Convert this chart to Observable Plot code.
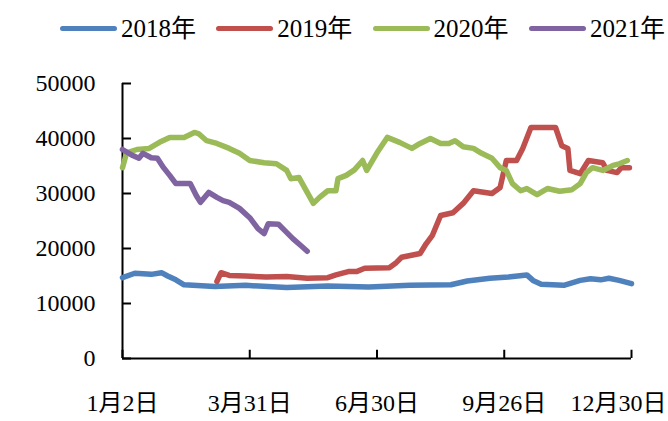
<!DOCTYPE html>
<html><head><meta charset="utf-8">
<script src="https://cdn.jsdelivr.net/npm/d3@7"></script>
<script src="https://cdn.jsdelivr.net/npm/@observablehq/plot@0.6"></script>
<style>
body{margin:0;background:#fff;width:668px;height:421px;overflow:hidden;font-family:"Liberation Serif","Noto Sans CJK SC",serif;}
#legend{height:50px;box-sizing:border-box;padding-top:6px;padding-left:60px;display:flex;align-items:center;width:668px;overflow:visible;}
.item{width:156.3px;display:flex;align-items:center;flex:none}
.sw{width:57px;height:5px;border-radius:3px;margin-right:4px;flex:none}
.lt{font-size:25px;color:#000;white-space:nowrap;line-height:1}
</style></head><body>
<div id="legend"></div><div id="chart"></div>
<script>
const years = ["2018年", "2019年", "2020年", "2021年"];
const colors = ["#4F81BD", "#C0504D", "#9BBB59", "#8064A2"];

const xTickIdx = [0, 62, 124, 186, 248];
const xTickLabels = ["1月2日", "3月31日", "6月30日", "9月26日", "12月30日"];
const yTicks = [0, 10000, 20000, 30000, 40000, 50000];

const idx2018 = [0,6,14,19,22,26,30,45,60,80,100,120,140,160,168,179,188,197,200,204,215,223,228,233,237,242,248];
const val2018 = [14700,15500,15300,15600,15000,14300,13400,13100,13300,12900,13200,13000,13300,13400,14100,14600,14800,15200,14200,13500,13300,14200,14500,14300,14600,14200,13600];

const idx2019 = [46,48,52,60,70,80,90,100,104,110,114,118,130,133,136,145,148,151,155,161,166,171,180,184,187,192,195,199,211,214,217,218,223,227,234,236,241,243,247];
const val2019 = [14000,15600,15100,15000,14800,14900,14600,14700,15200,15800,15800,16400,16500,17300,18400,19100,20900,22400,26000,26500,28200,30500,30000,31100,36000,36000,38200,42000,42000,38700,38200,34200,33600,36000,35600,34200,33800,34700,34700];

const idx2020 = [0,2,7,13,18,23,30,35,37,41,46,52,57,62,69,75,80,82,86,90,93,96,100,104,105,109,113,117,119,124,129,135,141,145,150,155,159,162,166,171,175,180,184,187,190,194,197,202,207,213,219,223,226,229,234,239,242,246];
const val2020 = [34700,37400,38000,38200,39300,40200,40200,41100,40900,39600,39100,38200,37300,36000,35600,35400,34200,32700,32900,30200,28200,29300,30500,30500,32700,33300,34300,36000,34200,37400,40200,39300,38200,39100,40000,39100,39100,39600,38500,38200,37300,36400,34700,34200,31800,30500,30900,29800,30900,30400,30700,31800,33800,34700,34200,35100,35400,36000];

const idx2021 = [0,5,8,10,14,17,20,23,26,33,36,38,42,46,49,52,57,62,66,69,71,76,79,83,87,90];
const val2021 = [38000,36900,36400,37300,36500,36400,34700,33300,31800,31800,29600,28400,30200,29300,28700,28400,27300,25600,23600,22700,24500,24400,23300,21800,20500,19500];

const seriesIdx = [idx2018, idx2019, idx2020, idx2021];
const seriesVal = [val2018, val2019, val2020, val2021];
const rows = [];
years.forEach((y, s) => seriesIdx[s].forEach((i, k) => rows.push({year: y, i, v: seriesVal[s][k]})));

// legend
const lg = document.getElementById("legend");
years.forEach((y, s) => {
  const it = document.createElement("div"); it.className = "item";
  const sw = document.createElement("span"); sw.className = "sw"; sw.style.background = colors[s];
  const t = document.createElement("span"); t.className = "lt"; t.textContent = y;
  it.append(sw, t); lg.append(it);
});

const tickLenY = 1500;   // inward tick length on x axis (≈8px)
const tickLenX = 4.4;    // inward tick length on y axis (≈9px)
const lastLabel = xTickIdx.length - 1;
const font = '"Liberation Serif","Noto Sans CJK SC",serif';

const chart = Plot.plot({
  width: 668, height: 371,
  marginLeft: 122, marginRight: 37, marginTop: 33, marginBottom: 63,
  x: {domain: [0, 248], label: null, axis: null},
  y: {domain: [0, 50000], label: null},
  color: {domain: years, range: colors},
  style: {fontFamily: font, fontSize: "24px", color: "#000", background: "#fff", overflow: "visible"},
  marks: [
    Plot.axisY({ticks: yTicks, tickSize: 0, tickPadding: 27, tickFormat: d => String(d), fontSize: 24, label: null}),
    Plot.text(xTickIdx.slice(0, lastLabel), {x: d => d, y: 0, text: d => xTickLabels[xTickIdx.indexOf(d)], fontSize: 24, lineAnchor: "top", dy: 35, fill: "#000"}),
    Plot.text([xTickIdx[lastLabel]], {x: d => d, y: 0, text: () => xTickLabels[lastLabel], fontSize: 24, lineAnchor: "top", dy: 35, dx: -13, fill: "#000"}),
    Plot.ruleY(yTicks, {y: d => d, x1: 0, x2: tickLenX, stroke: "#000", strokeWidth: 2}),
    Plot.ruleX(xTickIdx, {x: d => d, y1: 0, y2: tickLenY, stroke: "#000", strokeWidth: 2}),
    Plot.ruleX([0], {y1: 0, y2: 50000, stroke: "#000", strokeWidth: 2}),
    Plot.ruleY([0], {x1: 0, x2: 248, stroke: "#000", strokeWidth: 2}),
    Plot.line(rows, {x: "i", y: "v", z: "year", stroke: "year", strokeWidth: 5.5, strokeLinejoin: "round", strokeLinecap: "round"})
  ]
});
document.getElementById("chart").append(chart);
</script>
</body></html>
